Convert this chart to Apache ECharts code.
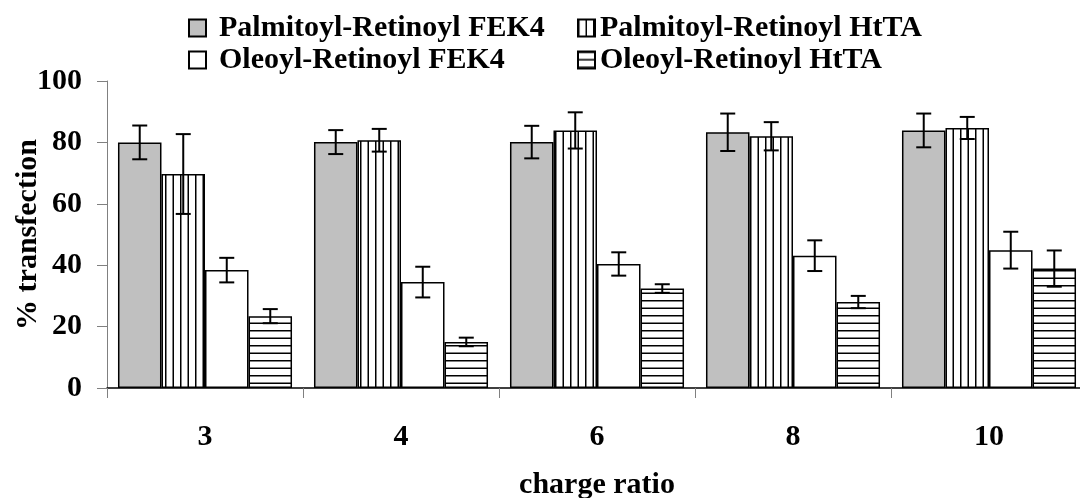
<!DOCTYPE html>
<html>
<head>
<meta charset="utf-8">
<script src="https://cdn.jsdelivr.net/npm/echarts@6/dist/echarts.min.js"></script>
<style>
  html, body { margin: 0; padding: 0; background: #fff; }
  #chart { width: 1080px; height: 498px; }
</style>
</head>
<body>
<div id="chart"></div>
<script>
// ---- data ----
const categories = ['3', '4', '6', '8', '10'];
const seriesNames = ['Palmitoyl-Retinoyl FEK4', 'Palmitoyl-Retinoyl HtTA', 'Oleoyl-Retinoyl FEK4', 'Oleoyl-Retinoyl HtTA'];
const palmFEK4 = [80.0, 80.1, 80.1, 83.3, 83.9];
const palmFEK4Err = [5.5, 3.9, 5.3, 6.1, 5.5];
const palmHtTA = [69.7, 80.7, 83.9, 82.0, 84.7];
const palmHtTAErr = [13.0, 3.7, 5.9, 4.6, 3.6];
const oleFEK4 = [38.4, 34.5, 40.4, 43.1, 44.9];
const oleFEK4Err = [4.0, 5.0, 3.8, 5.0, 6.0];
const oleHtTA = [23.4, 15.0, 32.4, 28.0, 38.9];
const oleHtTAErr = [2.3, 1.4, 1.4, 2.0, 5.9];
const yTicks = [0, 20, 40, 60, 80, 100];

const values = [palmFEK4, palmHtTA, oleFEK4, oleHtTA];
const errors = [palmFEK4Err, palmHtTAErr, oleFEK4Err, oleHtTAErr];

// ---- styling helpers ----
const FONT = 'Liberation Serif';
const BAR_FRAC = 0.222;

function stripes(vertical) {
  const c = document.createElement('canvas');
  c.width = 15; c.height = 15;
  const g = c.getContext('2d');
  g.fillStyle = '#fff';
  g.fillRect(0, 0, 15, 15);
  g.fillStyle = '#000';
  if (vertical) {
    g.fillRect(0, 0, 1.5, 15);
    g.fillRect(7.5, 0, 1.5, 15);
  } else {
    g.fillRect(0, 0, 15, 1.5);
    g.fillRect(0, 7.5, 15, 1.5);
  }
  return c;
}

const fills = [
  '#c0c0c0',
  { image: stripes(true), repeat: 'repeat' },
  '#ffffff',
  { image: stripes(false), repeat: 'repeat' }
];

const chart = echarts.init(document.getElementById('chart'), null, { renderer: 'canvas' });

const series = [];
values.forEach((vals, i) => {
  series.push({
    name: seriesNames[i],
    type: 'bar',
    data: vals,
    barWidth: (BAR_FRAC * 100) + '%',
    barGap: '0%',
    itemStyle: { color: fills[i], borderColor: '#000', borderWidth: 1.5 },
    z: 2
  });
});
values.forEach((vals, i) => {
  series.push({
    type: 'custom',
    name: 'err' + i,
    data: vals.map((v, k) => [k, v - errors[i][k], v + errors[i][k]]),
    encode: { x: 0, y: [1, 2] },
    z: 5,
    silent: true,
    renderItem: function (params, api) {
      const k = api.value(0);
      const top = api.coord([k, api.value(2)]);
      const bot = api.coord([k, api.value(1)]);
      const band = api.size([1, 0])[0];
      const bw = band * BAR_FRAC;
      const cx = top[0] + (i - 1.5) * bw;
      const half = 7.5;
      const st = { stroke: '#000', lineWidth: 2 };
      return {
        type: 'group',
        children: [
          { type: 'line', shape: { x1: cx, y1: top[1], x2: cx, y2: bot[1] }, style: st },
          { type: 'line', shape: { x1: cx - half, y1: top[1], x2: cx + half, y2: top[1] }, style: st },
          { type: 'line', shape: { x1: cx - half, y1: bot[1], x2: cx + half, y2: bot[1] }, style: st }
        ]
      };
    }
  });
});

const legendBase = {
  orient: 'horizontal',
  icon: 'rect',
  itemWidth: 17,
  itemHeight: 17,
  padding: 0,
  selectedMode: false,
  textStyle: { fontFamily: FONT, fontWeight: 'bold', fontSize: 30, color: '#000' }
};
const legendPos = [
  { left: 188, top: 13 },
  { left: 577, top: 13 },
  { left: 188, top: 45 },
  { left: 577, top: 45 }
];

const option = {
  backgroundColor: '#fff',
  animation: false,
  legend: seriesNames.map((n, i) => Object.assign({}, legendBase, legendPos[i], {
    data: [n],
    textStyle: Object.assign({}, legendBase.textStyle, { padding: i % 2 === 0 ? [0, 0, 0, 8] : [0, 0, 0, 0] })
  })),
  grid: { left: 107, top: 81, width: 980, bottom: 110, containLabel: false, outerBoundsMode: 'none' },
  xAxis: {
    type: 'category',
    data: categories,
    boundaryGap: true,
    name: 'charge ratio',
    nameLocation: 'middle',
    nameGap: 82,
    nameMoveOverlap: false,
    nameTextStyle: { fontFamily: FONT, fontWeight: 'bold', fontSize: 30, color: '#000' },
    axisLine: { lineStyle: { color: '#000', width: 1.5 } },
    axisTick: { show: true, length: 10, lineStyle: { color: '#808080', width: 1 } },
    axisLabel: { fontFamily: FONT, fontWeight: 'bold', fontSize: 30, color: '#000', margin: 34 },
    splitLine: { show: false }
  },
  yAxis: {
    type: 'value',
    min: yTicks[0],
    max: yTicks[yTicks.length - 1],
    interval: yTicks[1] - yTicks[0],
    name: '% transfection',
    nameLocation: 'middle',
    nameRotate: 90,
    nameGap: 64,
    nameMoveOverlap: false,
    nameTextStyle: { fontFamily: FONT, fontWeight: 'bold', fontSize: 30, color: '#000' },
    axisLine: { show: true, lineStyle: { color: '#808080', width: 1 } },
    axisTick: { show: true, length: 10, lineStyle: { color: '#808080', width: 1 } },
    axisLabel: { fontFamily: FONT, fontWeight: 'bold', fontSize: 30, color: '#000', margin: 25 },
    splitLine: { show: false }
  },
  series: series
};

chart.setOption(option);
</script>
</body>
</html>
